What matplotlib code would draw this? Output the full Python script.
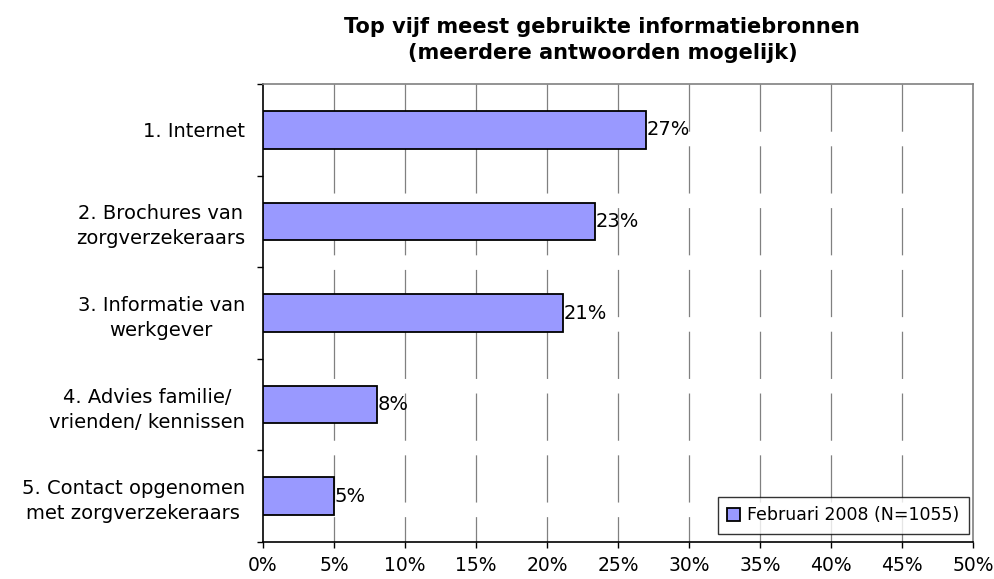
import matplotlib.pyplot as plt
import numpy as np

plt.rcParams["font.family"] = ["DejaVu Sans"]
plt.rcParams["lines.scale_dashes"] = False

# ##### Data #####

categories = ["1. Internet",
              "2. Brochures van\nzorgverzekeraars",
              "3. Informatie van\nwerkgever",
              "4. Advies familie/\nvrienden/ kennissen",
              "5. Contact opgenomen\nmet zorgverzekeraars"]
values = [27.0, 23.4, 21.1, 8.0, 5.0]
value_labels = ["27%", "23%", "21%", "8%", "5%"]
series_name = "Februari 2008 (N=1055)"
xticks = np.arange(0, 51, 5)

# ##### Make plot #####

fig = plt.figure(figsize=(9.94, 5.79), dpi=100)
ax = fig.add_axes([263/994, 1 - 542/579, (973 - 263)/994, (542 - 84)/579])

ypos = np.arange(len(categories))
bars = ax.barh(ypos, values, height=0.41, color="#9999FF",
               edgecolor="black", linewidth=1.3, zorder=3, label=series_name)

for b, txt in zip(bars, value_labels):
    ax.text(b.get_width() + 0.05, b.get_y() + b.get_height()/2, txt,
            ha="left", va="center", fontsize=14, zorder=4)

# dashed vertical grid lines, drawn from the top down
ax.vlines(xticks[1:-1], 1, 0, transform=ax.get_xaxis_transform(),
          colors="#808080", linewidth=0.9, linestyles=[(0, (34, 10.5))],
          zorder=1)

ax.set_xlim(0, 50)
ax.set_ylim(len(categories) - 0.5, -0.5)

ax.set_xticks(xticks)
ax.set_xticklabels([str(x) + "%" for x in xticks], fontsize=13.5)
ax.tick_params(axis="x", direction="out", length=4, width=1, pad=6)

ax.set_yticks(ypos)
ax.set_yticklabels(categories, fontsize=14)
for lbl in ax.get_yticklabels():
    lbl.set_multialignment("center")
    lbl.set_linespacing(1.4)
ax.set_yticks(np.arange(-0.5, len(categories), 1), minor=True)
ax.tick_params(axis="y", which="major", length=0, pad=13)
ax.tick_params(axis="y", which="minor", direction="out", length=4, width=1)

for side in ["left", "bottom"]:
    ax.spines[side].set_color("black")
    ax.spines[side].set_linewidth(1.2)
for side in ["top", "right"]:
    ax.spines[side].set_color("#808080")
    ax.spines[side].set_linewidth(1.2)

leg = ax.legend(loc="lower right", fontsize=12.5, frameon=True,
                fancybox=False, handlelength=0.75, handleheight=0.75,
                handletextpad=0.4, borderpad=0.55, borderaxespad=0,
                bbox_to_anchor=(0.9944, 0.0175))
leg.get_frame().set_edgecolor("black")
leg.get_frame().set_linewidth(1.0)

fig.text(0.606, 0.931, "Top vijf meest gebruikte informatiebronnen\n"
         "(meerdere antwoorden mogelijk)", ha="center", va="center",
         fontsize=15, fontweight="bold", linespacing=1.35)

plt.savefig("out.png", dpi=100)
plt.close()
